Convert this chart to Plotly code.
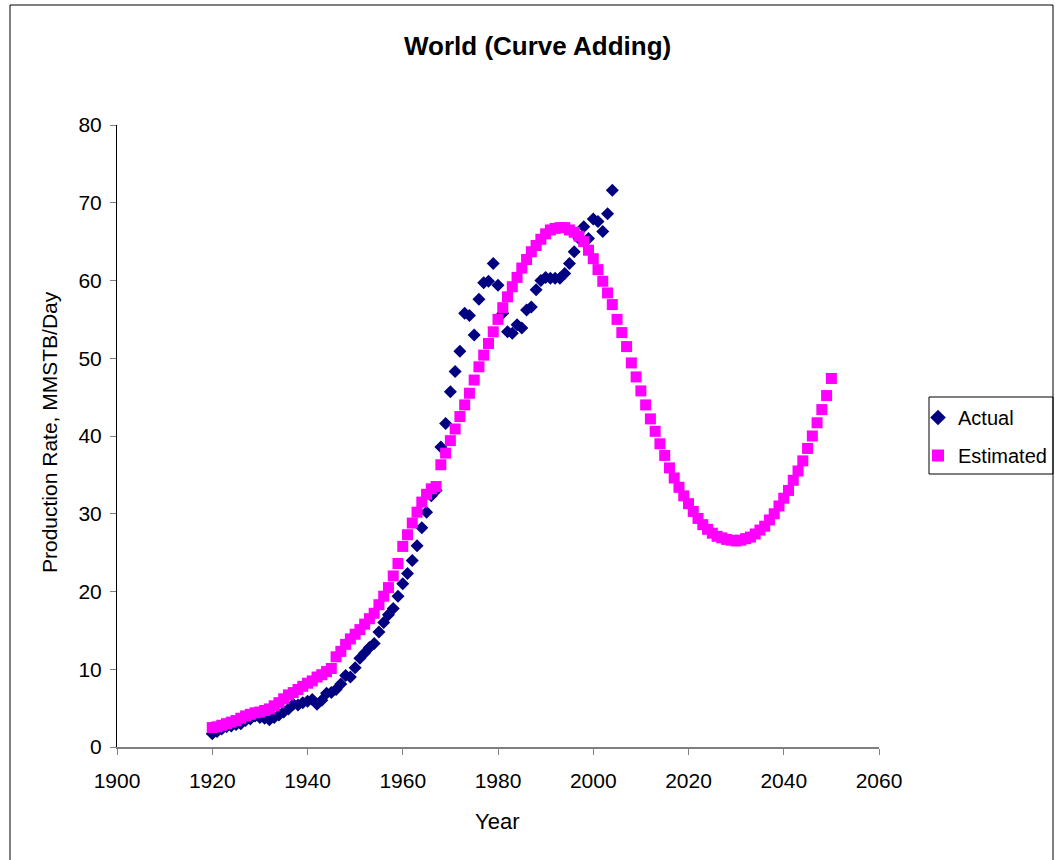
import plotly.graph_objects as go

# World oil production: historical and curve-adding estimate (MMSTB/Day)
actual_years = list(range(1920, 2005))
actual_rate = [
    1.7, 2.0, 2.3, 2.6, 2.7, 2.9, 3.0, 3.4, 3.6, 4.0,
    3.8, 3.7, 3.5, 3.8, 4.1, 4.5, 4.9, 5.5, 5.4, 5.7,
    5.9, 6.1, 5.5, 6.0, 6.9, 7.0, 7.4, 8.1, 9.2, 9.0,
    10.2, 11.4, 12.1, 12.8, 13.3, 14.8, 16.0, 17.0, 17.8, 19.4,
    21.0, 22.3, 24.0, 25.9, 28.2, 30.2, 32.3, 33.0, 38.6, 41.6,
    45.7, 48.3, 50.9, 55.8, 55.5, 53.0, 57.6, 59.7, 59.9, 62.2,
    59.4, 55.8, 53.4, 53.2, 54.3, 53.9, 56.2, 56.6, 58.8, 60.0,
    60.4, 60.3, 60.3, 60.3, 60.9, 62.2, 63.7, 65.4, 66.9, 65.4,
    67.9, 67.6, 66.3, 68.6, 71.6,
]

estimated_years = list(range(1920, 2051))
estimated_rate = [
    2.5, 2.6, 2.8, 3.0, 3.2, 3.4, 3.7, 4.0, 4.2, 4.4,
    4.5, 4.7, 4.9, 5.3, 5.7, 6.2, 6.7, 7.0, 7.4, 7.8,
    8.2, 8.5, 9.0, 9.3, 9.7, 10.1, 11.6, 12.3, 13.2, 13.9,
    14.5, 15.1, 15.8, 16.5, 17.2, 18.3, 19.4, 20.5, 22.0, 23.6,
    25.8, 27.3, 28.8, 30.2, 31.5, 32.5, 33.2, 33.5, 36.3, 37.8,
    39.4, 40.9, 42.5, 44.0, 45.5, 47.2, 48.9, 50.4, 51.9, 53.4,
    55.0, 56.5, 57.9, 59.2, 60.4, 61.6, 62.7, 63.7, 64.5, 65.3,
    66.0, 66.5, 66.7, 66.8, 66.8, 66.5, 66.2, 65.7, 65.0, 63.9,
    62.8, 61.4, 59.9, 58.4, 56.9, 55.0, 53.3, 51.5, 49.4, 47.6,
    45.8, 44.0, 42.2, 40.6, 39.0, 37.5, 35.9, 34.6, 33.4, 32.3,
    31.3, 30.3, 29.4, 28.6, 28.0, 27.5, 27.1, 26.9, 26.7, 26.6,
    26.5, 26.6, 26.8, 27.0, 27.4, 27.9, 28.4, 29.2, 30.0, 31.0,
    32.0, 33.0, 34.3, 35.5, 36.8, 38.4, 40.0, 41.7, 43.4, 45.2,
    47.4,
]

x_ticks = [1900, 1920, 1940, 1960, 1980, 2000, 2020, 2040, 2060]
y_ticks = [0, 10, 20, 30, 40, 50, 60, 70, 80]

FONT = "Liberation Sans, Arial, sans-serif"

fig = go.Figure()
fig.add_trace(go.Scatter(
    x=actual_years, y=actual_rate, mode="markers", name="Actual",
    legendgroup="actual",
    marker=dict(symbol="diamond", size=10, color="#000080",
                line=dict(width=0)),
))
fig.add_trace(go.Scatter(
    x=estimated_years, y=estimated_rate, mode="markers", name="Estimated",
    legendgroup="estimated",
    marker=dict(symbol="square", size=11, color="#FF00FF",
                line=dict(width=0)),
))

L, R, T, B = 117, 176, 125, 113
W, H = 1055, 860
pw, ph = W - L - R, H - T - B


def px_x(p):
    return (p - L) / pw


def px_y(p):
    return (H - B - p) / ph


fig.update_layout(
    width=W, height=H,
    margin=dict(l=L, r=R, t=T, b=B, pad=0, autoexpand=False),
    paper_bgcolor="white", plot_bgcolor="white",
    font=dict(family=FONT, size=21, color="black"),
    showlegend=True,
    legend=dict(
        x=px_x(918), y=px_y(398), xanchor="left", yanchor="top",
        borderwidth=0, bgcolor="rgba(0,0,0,0)",
        font=dict(size=20, family=FONT),
        itemsizing="constant", tracegroupgap=9,
    ),
    xaxis=dict(
        range=[1900, 2060], tickvals=x_ticks, ticks="outside", ticklen=6,
        tickcolor="#808080", showline=True, linecolor="#808080", linewidth=2,
        showgrid=False, zeroline=False, tickfont=dict(size=21),
        ticklabelstandoff=8,
    ),
    yaxis=dict(
        range=[0, 80], tickvals=y_ticks, ticks="outside", ticklen=6,
        tickcolor="#808080", showline=True, linecolor="black", linewidth=1,
        showgrid=False, zeroline=False, tickfont=dict(size=21),
        ticklabelstandoff=4,
    ),
    annotations=[
        dict(text="<b>World (Curve Adding)</b>", xref="paper", yref="paper",
             x=px_x(537), y=px_y(46), xanchor="center", yanchor="middle",
             showarrow=False, font=dict(size=26, family=FONT)),
        dict(text="Production Rate, MMSTB/Day", xref="paper", yref="paper",
             x=px_x(50), y=px_y(432), xanchor="center", yanchor="middle",
             textangle=-90, showarrow=False, font=dict(size=21, family=FONT)),
        dict(text="Year", xref="paper", yref="paper",
             x=px_x(497), y=px_y(821), xanchor="center", yanchor="middle",
             showarrow=False, font=dict(size=22, family=FONT)),
    ],
    shapes=[
        # outer chart frame
        dict(type="rect", xref="paper", yref="paper",
             x0=px_x(10), x1=px_x(1053), y0=px_y(880), y1=px_y(5),
             line=dict(color="black", width=1), layer="below"),
        # legend frame
        dict(type="rect", xref="paper", yref="paper",
             x0=px_x(929), x1=px_x(1053), y0=px_y(474), y1=px_y(397),
             line=dict(color="black", width=1), layer="below"),
    ],
)

fig.write_html("out.html")
